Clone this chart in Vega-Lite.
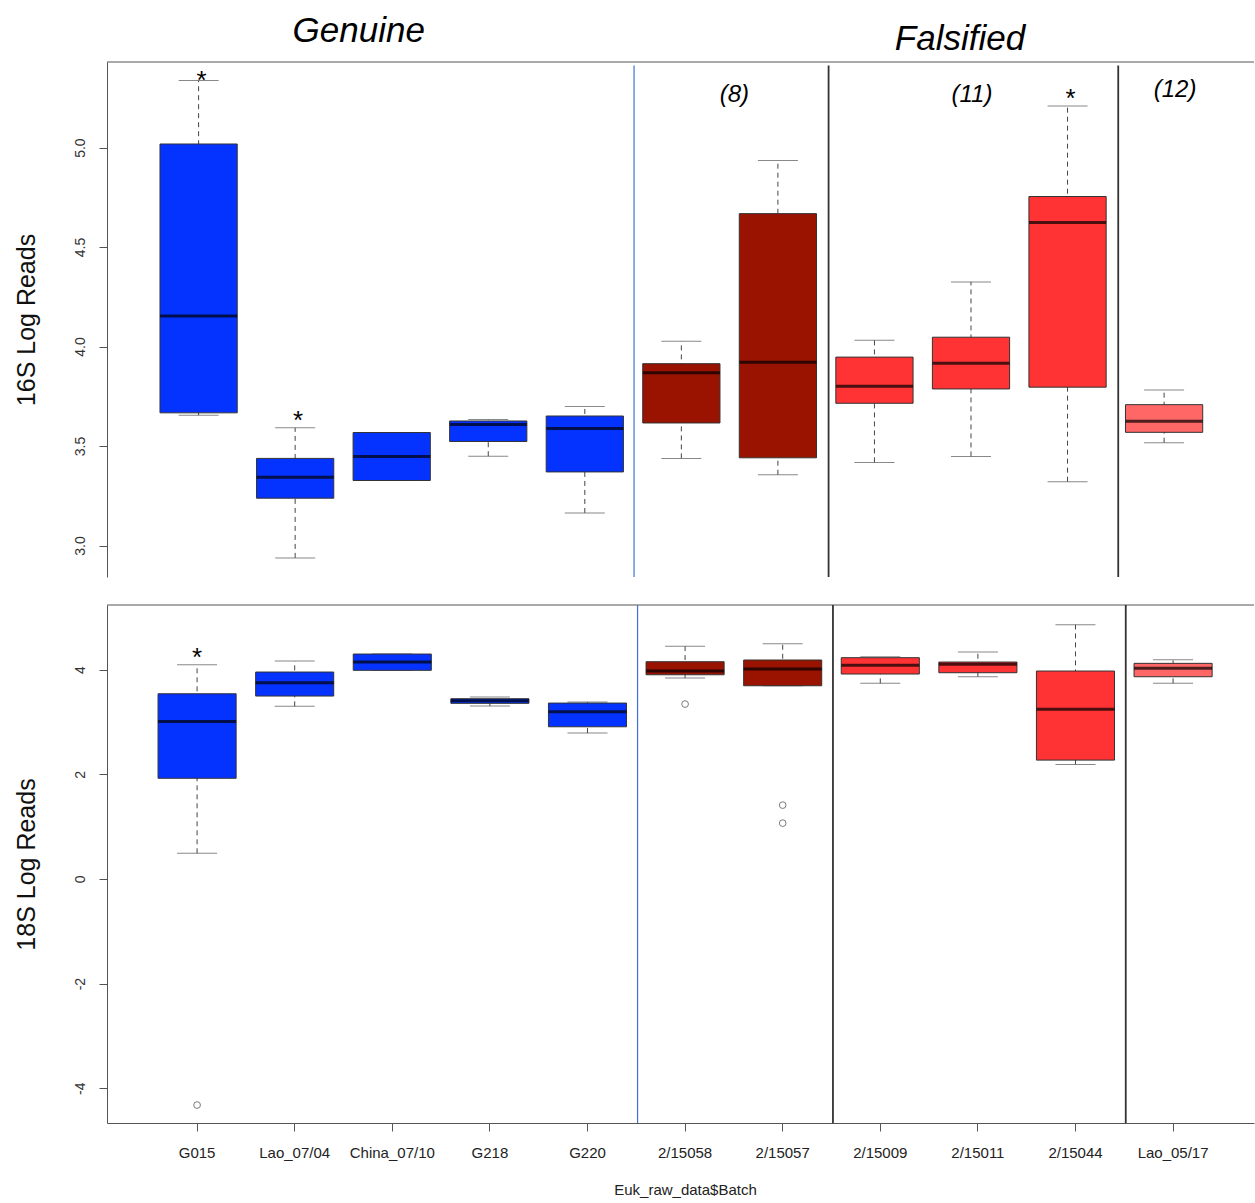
{
  "$schema": "https://vega.github.io/schema/vega-lite/v6.json",
  "background": "white",
  "padding": {"left": 14, "top": 13, "right": 0, "bottom": 3},
  "config": {"view": {"stroke": null}, "font": "Liberation Sans"},
  "spacing": 26,
  "resolve": {"scale": {"x": "independent", "y": "independent"}},
  "datasets": {
    "box16": [
      {"batch": "G015", "group": "Genuine", "lower": 3.655, "q1": 3.667, "median": 4.153, "q3": 5.018, "upper": 5.337},
      {"batch": "Lao_07/04", "group": "Genuine", "lower": 2.938, "q1": 3.238, "median": 3.343, "q3": 3.438, "upper": 3.592},
      {"batch": "China_07/10", "group": "Genuine", "lower": 3.327, "q1": 3.327, "median": 3.447, "q3": 3.568, "upper": 3.568},
      {"batch": "G218", "group": "Genuine", "lower": 3.449, "q1": 3.523, "median": 3.608, "q3": 3.626, "upper": 3.633},
      {"batch": "G220", "group": "Genuine", "lower": 3.164, "q1": 3.37, "median": 3.588, "q3": 3.651, "upper": 3.699},
      {"batch": "2/15058", "group": "Falsified (8)", "lower": 3.438, "q1": 3.616, "median": 3.869, "q3": 3.914, "upper": 4.027},
      {"batch": "2/15057", "group": "Falsified (8)", "lower": 3.356, "q1": 3.441, "median": 3.921, "q3": 4.668, "upper": 4.935},
      {"batch": "2/15009", "group": "Falsified (11)", "lower": 3.418, "q1": 3.715, "median": 3.8, "q3": 3.947, "upper": 4.032},
      {"batch": "2/15011", "group": "Falsified (11)", "lower": 3.448, "q1": 3.787, "median": 3.916, "q3": 4.047, "upper": 4.325},
      {"batch": "2/15044", "group": "Falsified (11)", "lower": 3.321, "q1": 3.796, "median": 4.624, "q3": 4.754, "upper": 5.209},
      {"batch": "Lao_05/17", "group": "Falsified (12)", "lower": 3.517, "q1": 3.569, "median": 3.625, "q3": 3.708, "upper": 3.782}
    ],
    "box18": [
      {"batch": "G015", "group": "Genuine", "lower": 0.49, "q1": 1.924, "median": 3.011, "q3": 3.539, "upper": 4.094},
      {"batch": "Lao_07/04", "group": "Genuine", "lower": 3.298, "q1": 3.495, "median": 3.75, "q3": 3.954, "upper": 4.164},
      {"batch": "China_07/10", "group": "Genuine", "lower": 3.987, "q1": 3.987, "median": 4.145, "q3": 4.298, "upper": 4.298},
      {"batch": "G218", "group": "Genuine", "lower": 3.304, "q1": 3.356, "median": 3.405, "q3": 3.444, "upper": 3.476},
      {"batch": "G220", "group": "Genuine", "lower": 2.788, "q1": 2.908, "median": 3.195, "q3": 3.361, "upper": 3.38},
      {"batch": "2/15058", "group": "Falsified (8)", "lower": 3.839, "q1": 3.902, "median": 3.973, "q3": 4.151, "upper": 4.446},
      {"batch": "2/15057", "group": "Falsified (8)", "lower": 3.692, "q1": 3.692, "median": 4.011, "q3": 4.184, "upper": 4.495},
      {"batch": "2/15009", "group": "Falsified (11)", "lower": 3.738, "q1": 3.916, "median": 4.082, "q3": 4.228, "upper": 4.247},
      {"batch": "2/15011", "group": "Falsified (11)", "lower": 3.864, "q1": 3.941, "median": 4.101, "q3": 4.145, "upper": 4.337},
      {"batch": "2/15044", "group": "Falsified (11)", "lower": 2.189, "q1": 2.271, "median": 3.241, "q3": 3.973, "upper": 4.859},
      {"batch": "Lao_05/17", "group": "Falsified (12)", "lower": 3.738, "q1": 3.864, "median": 4.025, "q3": 4.12, "upper": 4.189}
    ],
    "out18": [
      {"batch": "G015", "value": -4.32},
      {"batch": "2/15058", "value": 3.342},
      {"batch": "2/15057", "value": 1.411},
      {"batch": "2/15057", "value": 1.067}
    ]
  },
  "vconcat": [
    {
      "width": 1147,
      "height": 515,
      "layer": [
        {
          "data": {"values": [{}]},
          "mark": {"type": "rule", "color": "#555", "strokeWidth": 1},
          "encoding": {"y": {"datum": 5.43, "type": "quantitative", "scale": {"domain": [2.842, 5.43], "nice": false, "zero": false}}}
        },
        {
          "data": {"values": [{"batch": "2/15058"}]},
          "mark": {"type": "rule", "color": "#3F72D6", "strokeWidth": 1.2},
          "encoding": {
            "x": {"field": "batch", "type": "nominal", "bandPosition": 0.01, "scale": {"domain": ["G015", "Lao_07/04", "China_07/10", "G218", "G220", "2/15058", "2/15057", "2/15009", "2/15011", "2/15044", "Lao_05/17"], "paddingInner": 0, "paddingOuter": 0.44, "align": 0.51}, "axis": null},
            "y": {"datum": 5.413, "type": "quantitative", "scale": {"domain": [2.842, 5.43], "nice": false, "zero": false}},
            "y2": {"datum": 2.842}
          }
        },
        {
          "data": {"values": [{"batch": "2/15009"}, {"batch": "Lao_05/17"}]},
          "mark": {"type": "rule", "color": "#333", "strokeWidth": 1.8},
          "encoding": {
            "x": {"field": "batch", "type": "nominal", "bandPosition": 0.025, "scale": {"domain": ["G015", "Lao_07/04", "China_07/10", "G218", "G220", "2/15058", "2/15057", "2/15009", "2/15011", "2/15044", "Lao_05/17"], "paddingInner": 0, "paddingOuter": 0.44, "align": 0.51}, "axis": null},
            "y": {"datum": 5.413, "type": "quantitative", "scale": {"domain": [2.842, 5.43], "nice": false, "zero": false}},
            "y2": {"datum": 2.842}
          }
        },
        {
          "data": {"name": "box16"},
          "mark": {"type": "rule", "color": "#444", "strokeWidth": 1, "strokeDash": [5, 4]},
          "encoding": {
            "x": {"field": "batch", "type": "nominal", "scale": {"domain": ["G015", "Lao_07/04", "China_07/10", "G218", "G220", "2/15058", "2/15057", "2/15009", "2/15011", "2/15044", "Lao_05/17"], "paddingInner": 0, "paddingOuter": 0.44, "align": 0.51}, "axis": null},
            "y": {"field": "lower", "type": "quantitative", "scale": {"domain": [2.842, 5.43], "nice": false, "zero": false}, "title": "16S Log Reads"},
            "y2": {"field": "upper"}
          }
        },
        {
          "data": {"name": "box16"},
          "mark": {"type": "tick", "color": "#555", "size": 40, "thickness": 1, "orient": "horizontal"},
          "encoding": {
            "x": {"field": "batch", "type": "nominal", "scale": {"domain": ["G015", "Lao_07/04", "China_07/10", "G218", "G220", "2/15058", "2/15057", "2/15009", "2/15011", "2/15044", "Lao_05/17"], "paddingInner": 0, "paddingOuter": 0.44, "align": 0.51}, "axis": null},
            "y": {"field": "lower", "type": "quantitative", "scale": {"domain": [2.842, 5.43], "nice": false, "zero": false}, "title": "16S Log Reads"}
          }
        },
        {
          "data": {"name": "box16"},
          "mark": {"type": "tick", "color": "#555", "size": 40, "thickness": 1, "orient": "horizontal"},
          "encoding": {
            "x": {"field": "batch", "type": "nominal", "scale": {"domain": ["G015", "Lao_07/04", "China_07/10", "G218", "G220", "2/15058", "2/15057", "2/15009", "2/15011", "2/15044", "Lao_05/17"], "paddingInner": 0, "paddingOuter": 0.44, "align": 0.51}, "axis": null},
            "y": {"field": "upper", "type": "quantitative", "scale": {"domain": [2.842, 5.43], "nice": false, "zero": false}, "title": "16S Log Reads"}
          }
        },
        {
          "data": {"name": "box16"},
          "mark": {"type": "bar", "width": {"band": 0.8}, "stroke": "#333", "strokeWidth": 1, "opacity": 1},
          "encoding": {
            "x": {"field": "batch", "type": "nominal", "scale": {"domain": ["G015", "Lao_07/04", "China_07/10", "G218", "G220", "2/15058", "2/15057", "2/15009", "2/15011", "2/15044", "Lao_05/17"], "paddingInner": 0, "paddingOuter": 0.44, "align": 0.51}, "axis": null},
            "y": {"field": "q1", "type": "quantitative", "scale": {"domain": [2.842, 5.43], "nice": false, "zero": false}, "title": "16S Log Reads",
              "axis": {"values": [3, 3.5, 4, 4.5, 5], "format": ".1f", "labelAngle": -90, "labelAlign": "center", "labelBaseline": "middle", "labelPadding": 19, "labelFontSize": 14, "labelColor": "#333", "labelOverlap": false, "tickSize": 8, "tickColor": "#555", "domainColor": "#555", "grid": false, "titleFontSize": 25, "titleFontWeight": "normal", "titleColor": "#111", "titleAngle": -90, "titleAlign": "center", "titleBaseline": "middle", "titleX": -80.7, "titleY": 257.5}},
            "y2": {"field": "q3"},
            "color": {"field": "group", "type": "nominal", "scale": {"domain": ["Genuine", "Falsified (8)", "Falsified (11)", "Falsified (12)"], "range": ["#0433FF", "#9A1200", "#FF3333", "#FF6666"]}, "legend": null}
          }
        },
        {
          "data": {"name": "box16"},
          "mark": {"type": "tick", "color": "#000", "size": 77, "thickness": 3, "orient": "horizontal"},
          "encoding": {
            "x": {"field": "batch", "type": "nominal", "scale": {"domain": ["G015", "Lao_07/04", "China_07/10", "G218", "G220", "2/15058", "2/15057", "2/15009", "2/15011", "2/15044", "Lao_05/17"], "paddingInner": 0, "paddingOuter": 0.44, "align": 0.51}, "axis": null},
            "y": {"field": "median", "type": "quantitative", "scale": {"domain": [2.842, 5.43], "nice": false, "zero": false}, "title": "16S Log Reads"}
          }
        },
        {
          "data": {"values": [{"batch": "G015", "label": "*", "pos": 5.37}, {"batch": "Lao_07/04", "label": "*", "pos": 3.663}, {"batch": "2/15044", "label": "*", "pos": 5.279}]},
          "mark": {"type": "text", "fontSize": 26, "color": "#000", "align": "center", "baseline": "middle", "dx": 3, "dy": 7},
          "encoding": {
            "x": {"field": "batch", "type": "nominal", "scale": {"domain": ["G015", "Lao_07/04", "China_07/10", "G218", "G220", "2/15058", "2/15057", "2/15009", "2/15011", "2/15044", "Lao_05/17"], "paddingInner": 0, "paddingOuter": 0.44, "align": 0.51}, "axis": null},
            "y": {"field": "pos", "type": "quantitative", "scale": {"domain": [2.842, 5.43], "nice": false, "zero": false}, "title": "16S Log Reads"},
            "text": {"field": "label"}
          }
        },
        {
          "data": {"values": [{"batch": "China_07/10", "label": "Genuine", "pos": 5.587}]},
          "mark": {"type": "text", "fontSize": 35, "fontStyle": "italic", "color": "#000", "align": "center", "baseline": "middle", "dx": -33},
          "encoding": {
            "x": {"field": "batch", "type": "nominal", "scale": {"domain": ["G015", "Lao_07/04", "China_07/10", "G218", "G220", "2/15058", "2/15057", "2/15009", "2/15011", "2/15044", "Lao_05/17"], "paddingInner": 0, "paddingOuter": 0.44, "align": 0.51}, "axis": null},
            "y": {"field": "pos", "type": "quantitative", "scale": {"domain": [2.842, 5.43], "nice": false, "zero": false}, "title": "16S Log Reads"},
            "text": {"field": "label"}
          }
        },
        {
          "data": {"values": [{"batch": "2/15011", "label": "Falsified", "pos": 5.546}]},
          "mark": {"type": "text", "fontSize": 35, "fontStyle": "italic", "color": "#000", "align": "center", "baseline": "middle", "dx": -11},
          "encoding": {
            "x": {"field": "batch", "type": "nominal", "scale": {"domain": ["G015", "Lao_07/04", "China_07/10", "G218", "G220", "2/15058", "2/15057", "2/15009", "2/15011", "2/15044", "Lao_05/17"], "paddingInner": 0, "paddingOuter": 0.44, "align": 0.51}, "axis": null},
            "y": {"field": "pos", "type": "quantitative", "scale": {"domain": [2.842, 5.43], "nice": false, "zero": false}, "title": "16S Log Reads"},
            "text": {"field": "label"}
          }
        },
        {
          "data": {"values": [{"batch": "2/15058", "label": "(8)", "pos": 5.263}]},
          "mark": {"type": "text", "fontSize": 24, "fontStyle": "italic", "color": "#000", "align": "center", "baseline": "middle", "dx": 53},
          "encoding": {
            "x": {"field": "batch", "type": "nominal", "scale": {"domain": ["G015", "Lao_07/04", "China_07/10", "G218", "G220", "2/15058", "2/15057", "2/15009", "2/15011", "2/15044", "Lao_05/17"], "paddingInner": 0, "paddingOuter": 0.44, "align": 0.51}, "axis": null},
            "y": {"field": "pos", "type": "quantitative", "scale": {"domain": [2.842, 5.43], "nice": false, "zero": false}, "title": "16S Log Reads"},
            "text": {"field": "label"}
          }
        },
        {
          "data": {"values": [{"batch": "2/15011", "label": "(11)", "pos": 5.263}]},
          "mark": {"type": "text", "fontSize": 24, "fontStyle": "italic", "color": "#000", "align": "center", "baseline": "middle", "dx": 1},
          "encoding": {
            "x": {"field": "batch", "type": "nominal", "scale": {"domain": ["G015", "Lao_07/04", "China_07/10", "G218", "G220", "2/15058", "2/15057", "2/15009", "2/15011", "2/15044", "Lao_05/17"], "paddingInner": 0, "paddingOuter": 0.44, "align": 0.51}, "axis": null},
            "y": {"field": "pos", "type": "quantitative", "scale": {"domain": [2.842, 5.43], "nice": false, "zero": false}, "title": "16S Log Reads"},
            "text": {"field": "label"}
          }
        },
        {
          "data": {"values": [{"batch": "Lao_05/17", "label": "(12)", "pos": 5.288}]},
          "mark": {"type": "text", "fontSize": 24, "fontStyle": "italic", "color": "#000", "align": "center", "baseline": "middle", "dx": 11},
          "encoding": {
            "x": {"field": "batch", "type": "nominal", "scale": {"domain": ["G015", "Lao_07/04", "China_07/10", "G218", "G220", "2/15058", "2/15057", "2/15009", "2/15011", "2/15044", "Lao_05/17"], "paddingInner": 0, "paddingOuter": 0.44, "align": 0.51}, "axis": null},
            "y": {"field": "pos", "type": "quantitative", "scale": {"domain": [2.842, 5.43], "nice": false, "zero": false}, "title": "16S Log Reads"},
            "text": {"field": "label"}
          }
        }
      ]
    },
    {
      "width": 1147,
      "height": 518,
      "layer": [
        {
          "data": {"values": [{}]},
          "mark": {"type": "rule", "color": "#555", "strokeWidth": 1},
          "encoding": {"y": {"datum": 5.235, "type": "quantitative", "scale": {"domain": [-4.663, 5.235], "nice": false, "zero": false}}}
        },
        {
          "data": {"values": [{"batch": "2/15058"}]},
          "mark": {"type": "rule", "color": "#3F72D6", "strokeWidth": 1.2},
          "encoding": {
            "x": {"field": "batch", "type": "nominal", "bandPosition": 0.013, "scale": {"domain": ["G015", "Lao_07/04", "China_07/10", "G218", "G220", "2/15058", "2/15057", "2/15009", "2/15011", "2/15044", "Lao_05/17"], "paddingInner": 0, "paddingOuter": 0.376, "align": 0.5625}, "title": "Euk_raw_data$Batch"}
          }
        },
        {
          "data": {"values": [{"batch": "2/15009"}, {"batch": "Lao_05/17"}]},
          "mark": {"type": "rule", "color": "#333", "strokeWidth": 1.8},
          "encoding": {
            "x": {"field": "batch", "type": "nominal", "bandPosition": 0.015, "scale": {"domain": ["G015", "Lao_07/04", "China_07/10", "G218", "G220", "2/15058", "2/15057", "2/15009", "2/15011", "2/15044", "Lao_05/17"], "paddingInner": 0, "paddingOuter": 0.376, "align": 0.5625}, "title": "Euk_raw_data$Batch"}
          }
        },
        {
          "data": {"name": "box18"},
          "mark": {"type": "rule", "color": "#444", "strokeWidth": 1, "strokeDash": [5, 4]},
          "encoding": {
            "x": {"field": "batch", "type": "nominal", "scale": {"domain": ["G015", "Lao_07/04", "China_07/10", "G218", "G220", "2/15058", "2/15057", "2/15009", "2/15011", "2/15044", "Lao_05/17"], "paddingInner": 0, "paddingOuter": 0.376, "align": 0.5625}, "title": "Euk_raw_data$Batch"},
            "y": {"field": "lower", "type": "quantitative", "scale": {"domain": [-4.663, 5.235], "nice": false, "zero": false}, "title": "18S Log Reads"},
            "y2": {"field": "upper"}
          }
        },
        {
          "data": {"name": "box18"},
          "mark": {"type": "tick", "color": "#555", "size": 40, "thickness": 1, "orient": "horizontal"},
          "encoding": {
            "x": {"field": "batch", "type": "nominal", "scale": {"domain": ["G015", "Lao_07/04", "China_07/10", "G218", "G220", "2/15058", "2/15057", "2/15009", "2/15011", "2/15044", "Lao_05/17"], "paddingInner": 0, "paddingOuter": 0.376, "align": 0.5625}, "title": "Euk_raw_data$Batch"},
            "y": {"field": "lower", "type": "quantitative", "scale": {"domain": [-4.663, 5.235], "nice": false, "zero": false}, "title": "18S Log Reads"}
          }
        },
        {
          "data": {"name": "box18"},
          "mark": {"type": "tick", "color": "#555", "size": 40, "thickness": 1, "orient": "horizontal"},
          "encoding": {
            "x": {"field": "batch", "type": "nominal", "scale": {"domain": ["G015", "Lao_07/04", "China_07/10", "G218", "G220", "2/15058", "2/15057", "2/15009", "2/15011", "2/15044", "Lao_05/17"], "paddingInner": 0, "paddingOuter": 0.376, "align": 0.5625}, "title": "Euk_raw_data$Batch"},
            "y": {"field": "upper", "type": "quantitative", "scale": {"domain": [-4.663, 5.235], "nice": false, "zero": false}, "title": "18S Log Reads"}
          }
        },
        {
          "data": {"name": "box18"},
          "mark": {"type": "bar", "width": {"band": 0.8}, "stroke": "#333", "strokeWidth": 1, "opacity": 1},
          "encoding": {
            "x": {"field": "batch", "type": "nominal", "scale": {"domain": ["G015", "Lao_07/04", "China_07/10", "G218", "G220", "2/15058", "2/15057", "2/15009", "2/15011", "2/15044", "Lao_05/17"], "paddingInner": 0, "paddingOuter": 0.376, "align": 0.5625}, "title": "Euk_raw_data$Batch",
              "axis": {"labelAngle": 0, "labelAlign": "center", "labelBaseline": "top", "tickSize": 8, "labelPadding": 14, "labelFontSize": 15, "labelColor": "#222", "labelOverlap": false, "tickColor": "#555", "domainColor": "#555", "grid": false, "titleFontSize": 15, "titleFontWeight": "normal", "titleColor": "#222", "titleAlign": "center", "titleBaseline": "middle", "titleX": 578, "titleY": 66.6}},
            "y": {"field": "q1", "type": "quantitative", "scale": {"domain": [-4.663, 5.235], "nice": false, "zero": false}, "title": "18S Log Reads",
              "axis": {"values": [-4, -2, 0, 2, 4], "labelExpr": "datum.value < 0 ? '-' + abs(datum.value) : '' + datum.value", "labelAngle": -90, "labelAlign": "center", "labelBaseline": "middle", "labelPadding": 19, "labelFontSize": 14, "labelColor": "#333", "labelOverlap": false, "tickSize": 8, "tickColor": "#555", "domainColor": "#555", "grid": false, "titleFontSize": 25, "titleFontWeight": "normal", "titleColor": "#111", "titleAngle": -90, "titleAlign": "center", "titleBaseline": "middle", "titleX": -80.7, "titleY": 259}},
            "y2": {"field": "q3"},
            "color": {"field": "group", "type": "nominal", "scale": {"domain": ["Genuine", "Falsified (8)", "Falsified (11)", "Falsified (12)"], "range": ["#0433FF", "#9A1200", "#FF3333", "#FF6666"]}, "legend": null}
          }
        },
        {
          "data": {"name": "box18"},
          "mark": {"type": "tick", "color": "#000", "size": 78, "thickness": 3, "orient": "horizontal"},
          "encoding": {
            "x": {"field": "batch", "type": "nominal", "scale": {"domain": ["G015", "Lao_07/04", "China_07/10", "G218", "G220", "2/15058", "2/15057", "2/15009", "2/15011", "2/15044", "Lao_05/17"], "paddingInner": 0, "paddingOuter": 0.376, "align": 0.5625}, "title": "Euk_raw_data$Batch"},
            "y": {"field": "median", "type": "quantitative", "scale": {"domain": [-4.663, 5.235], "nice": false, "zero": false}, "title": "18S Log Reads"}
          }
        },
        {
          "data": {"name": "out18"},
          "mark": {"type": "point", "shape": "circle", "filled": false, "size": 45, "stroke": "#444", "strokeWidth": 1},
          "encoding": {
            "x": {"field": "batch", "type": "nominal", "scale": {"domain": ["G015", "Lao_07/04", "China_07/10", "G218", "G220", "2/15058", "2/15057", "2/15009", "2/15011", "2/15044", "Lao_05/17"], "paddingInner": 0, "paddingOuter": 0.376, "align": 0.5625}, "title": "Euk_raw_data$Batch"},
            "y": {"field": "value", "type": "quantitative", "scale": {"domain": [-4.663, 5.235], "nice": false, "zero": false}, "title": "18S Log Reads"}
          }
        },
        {
          "data": {"values": [{"batch": "G015", "label": "*", "pos": 4.356}]},
          "mark": {"type": "text", "fontSize": 26, "color": "#000", "align": "center", "baseline": "middle", "dx": 0, "dy": 7},
          "encoding": {
            "x": {"field": "batch", "type": "nominal", "scale": {"domain": ["G015", "Lao_07/04", "China_07/10", "G218", "G220", "2/15058", "2/15057", "2/15009", "2/15011", "2/15044", "Lao_05/17"], "paddingInner": 0, "paddingOuter": 0.376, "align": 0.5625}, "title": "Euk_raw_data$Batch"},
            "y": {"field": "pos", "type": "quantitative", "scale": {"domain": [-4.663, 5.235], "nice": false, "zero": false}, "title": "18S Log Reads"},
            "text": {"field": "label"}
          }
        }
      ]
    }
  ]
}
